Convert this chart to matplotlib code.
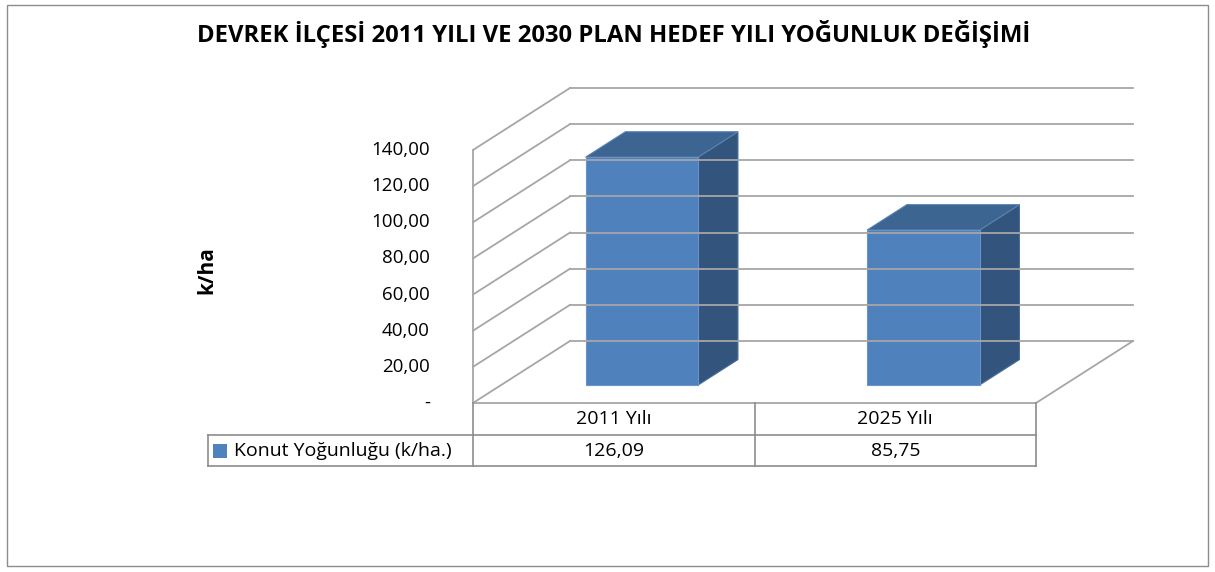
import matplotlib
matplotlib.use("Agg")
import matplotlib.pyplot as plt
from matplotlib.patches import Polygon, Rectangle

plt.rcParams['font.family'] = ['Open Sans', 'DejaVu Sans']

title = "DEVREK İLÇESİ 2011 YILI VE 2030 PLAN HEDEF YILI YOĞUNLUK DEĞİŞİMİ"
categories = ["2011 Yılı", "2025 Yılı"]
series_name = "Konut Yoğunluğu (k/ha.)"
values = [126.09, 85.75]
value_labels = ["126,09", "85,75"]
yticks = [0, 20, 40, 60, 80, 100, 120, 140]
ytick_labels = ["-", "20,00", "40,00", "60,00", "80,00", "100,00", "120,00", "140,00"]
ylabel = "k/ha"

front = "#4f81bd"
side = "#33547d"
top = "#3d6591"
grid = "#a6a6a6"

W, H = 1215, 572
fig = plt.figure(figsize=(W / 100, H / 100), dpi=100)
fig.patch.set_facecolor("white")

# front plane of the 3d box, in pixels
x0, x1 = 473, 1036
yb, yt = 403, 150
ax = fig.add_axes([x0 / W, (H - yb) / H, (x1 - x0) / W, (yb - yt) / H])
ax.set_xlim(-0.5, len(categories) - 0.5)
ax.set_ylim(0, 140)
ax.axis("off")

ppu_x = (x1 - x0) / len(categories)   # px per category
ppu_y = (yb - yt) / 140               # px per value unit
DX = 97 / ppu_x                        # depth shift (category units)
DY = 62 / ppu_y                        # depth shift (value units)

kw = dict(clip_on=False)
xl, xr = -0.5, len(categories) - 0.5

# walls and gridlines
for v in yticks:
    ax.plot([xl, xl + DX], [v, v + DY], color=grid, lw=1.3, **kw)
    ax.plot([xl + DX, xr + DX], [v + DY, v + DY], color=grid, lw=1.3, **kw)
ax.plot([xl, xl], [0, 140], color=grid, lw=1.3, **kw)
ax.plot([xl, xr], [0, 0], color=grid, lw=1.3, **kw)
ax.plot([xr, xr + DX], [0, DY], color=grid, lw=1.3, **kw)

# bars
d0, d1 = 0.29, 0.70
bw = 0.4
for i, v in enumerate(values):
    l = i - bw / 2 + d0 * DX
    r = i + bw / 2 + d0 * DX
    b = d0 * DY
    ddx = (d1 - d0) * DX
    ddy = (d1 - d0) * DY
    ax.add_patch(Polygon([(r, b), (r + ddx, b + ddy), (r + ddx, b + ddy + v), (r, b + v)],
                         closed=True, facecolor=side, edgecolor="#4a6f9c", lw=0.8, **kw))
    ax.add_patch(Polygon([(l, b + v), (r, b + v), (r + ddx, b + v + ddy), (l + ddx, b + v + ddy)],
                         closed=True, facecolor=top, edgecolor="#5a82b5", lw=0.8, **kw))
    ax.add_patch(Rectangle((l, b), r - l, v, facecolor=front, edgecolor="#6a93c8", lw=0.8, **kw))

# y tick labels
for v, s in zip(yticks, ytick_labels):
    ax.text(xl - 43 / ppu_x, v, s, ha="right", va="center", fontsize=13.5, **kw)

fig.text(207 / W, 1 - 270 / H, ylabel, rotation=90, ha="center", va="center",
         fontsize=15, fontweight="bold")
fig.text(614 / W, 1 - 34 / H, title, ha="center", va="center", fontsize=17.2, fontweight="bold")

# data table
r1 = -32 / ppu_y
r2 = -63 / ppu_y
xleg = xl - (473 - 208) / ppu_x
tcol = "#8c8c8c"
for xv in [xl, 0.5, xr]:
    ax.plot([xv, xv], [0, r2], color=tcol, lw=1.2, **kw)
ax.plot([xleg, xr], [r1, r1], color=tcol, lw=1.2, **kw)
ax.plot([xleg, xr], [r2, r2], color=tcol, lw=1.2, **kw)
ax.plot([xleg, xleg], [r1, r2], color=tcol, lw=1.2, **kw)
for i, (c, s) in enumerate(zip(categories, value_labels)):
    ax.text(i, r1 / 2, c, ha="center", va="center", fontsize=14, **kw)
    ax.text(i, (r1 + r2) / 2, s, ha="center", va="center", fontsize=14, **kw)
ax.add_patch(Rectangle((xleg + 5 / ppu_x, (r1 + r2) / 2 - 7 / ppu_y), 14 / ppu_x, 14 / ppu_y,
                       facecolor=front, edgecolor="none", **kw))
ax.text(xleg + 26 / ppu_x, (r1 + r2) / 2, series_name, ha="left", va="center", fontsize=14, **kw)

# chart border
fig.add_artist(Rectangle((7 / W, 1 - 566 / H), 1201 / W, 561 / H, transform=fig.transFigure,
                         fill=False, edgecolor="#8c8c8c", lw=1))

fig.savefig("out.png", dpi=100)
